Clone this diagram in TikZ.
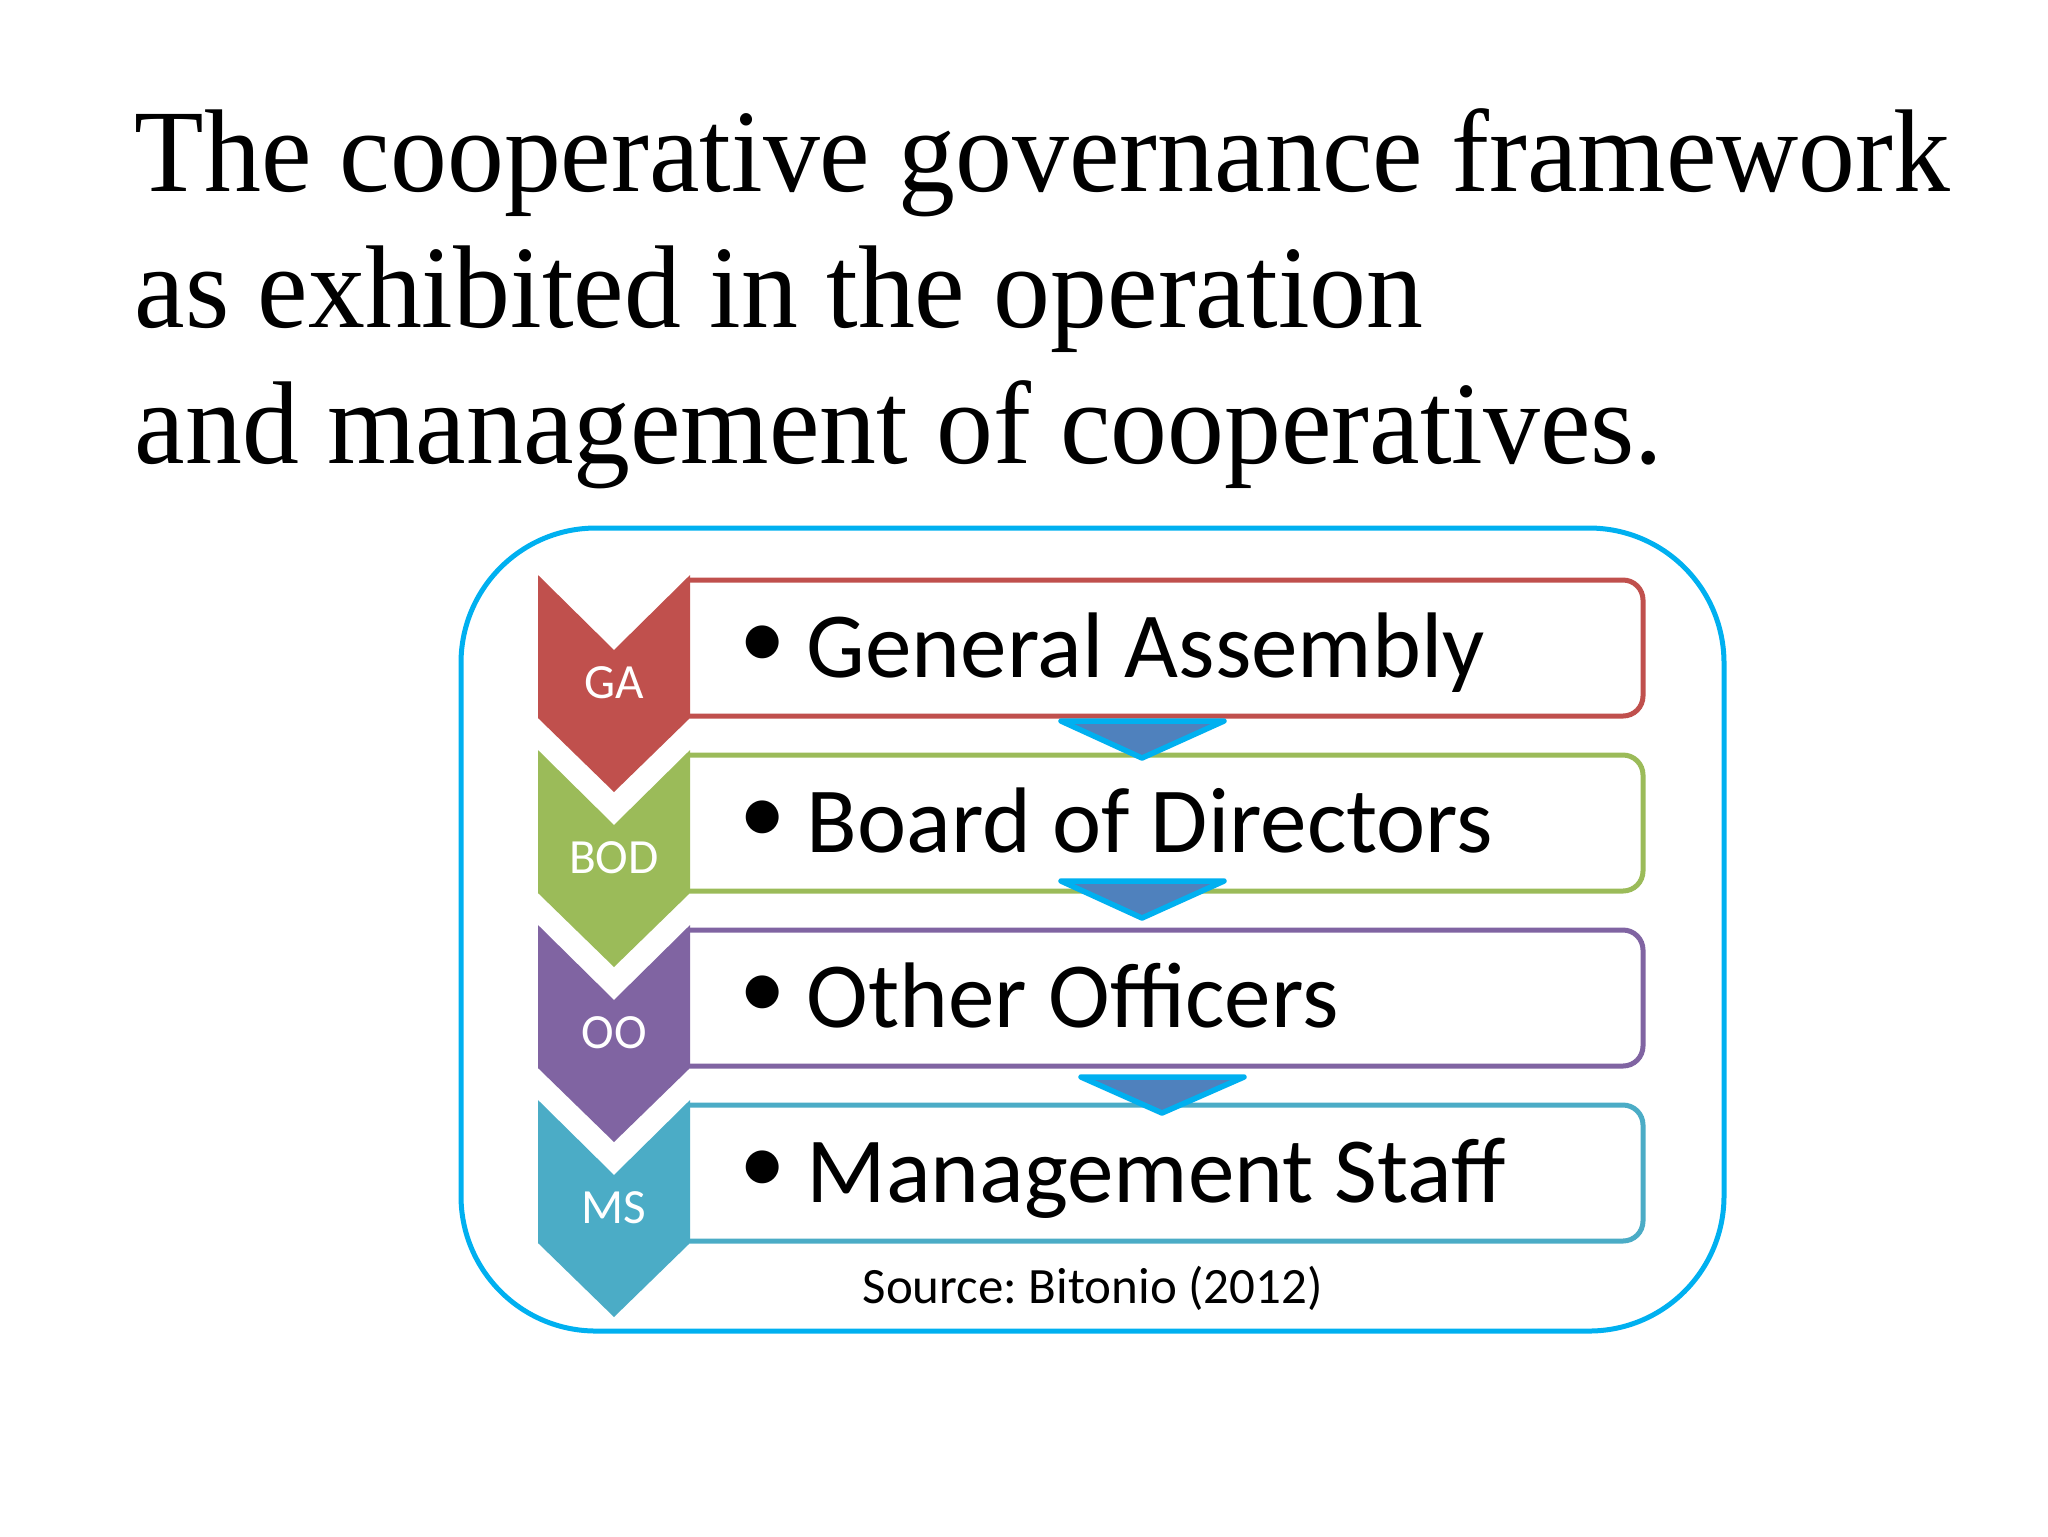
\documentclass[tikz,border=0pt]{standalone}
\usepackage{fontspec}
\setmainfont{Liberation Serif}
\newfontfamily\titlefont[FakeStretch=0.966]{Liberation Serif}
\newfontfamily\calibri{Carlito}
\usepackage{tikz}
\usetikzlibrary{calc}
\frenchspacing

\definecolor{gared}{HTML}{C0504D}
\definecolor{bodgreen}{HTML}{9BBB59}
\definecolor{oopurple}{HTML}{8064A2}
\definecolor{msaqua}{HTML}{4BACC6}
\definecolor{arrowblue}{HTML}{4F81BD}
\definecolor{framecyan}{HTML}{00B0F0}

\tikzset{
  chevron/.style={fill=#1, draw=none},
  itembox/.style={draw=#1, line width=0.5mm, rounded corners=2mm, fill=white},
  downtri/.style={fill=arrowblue, draw=framecyan, line width=0.55mm, line join=round},
  chevlabel/.style={text=white, inner sep=0pt, font=\calibri\fontsize{14}{16}\selectfont},
  itemtext/.style={inner sep=0pt, anchor=base west, font=\calibri\fontsize{26.5}{30}\selectfont},
  itembullet/.style={inner sep=0pt, font=\calibri\fontsize{26.5}{30}\selectfont},
  titleline/.style={inner sep=0pt, anchor=base west, font=\titlefont\fontsize{33.5}{38}\selectfont}
}

\begin{document}
\begin{tikzpicture}[x=0.1mm, y=-0.1mm]
          \useasboundingbox (0,0) rectangle (2048,1536);

          % title
          \node [titleline] (title1) at (134,191) {The cooperative governance framework};
          \node [titleline] (title2) at (134,327) {as exhibited in the operation};
          \node [titleline] (title3) at (134,463) {and management of cooperatives.};

          \draw [framecyan, line width=0.5mm, rounded corners=13.5mm] (461,528) rectangle (1724,1331); % Draws the frame

          \draw [itembox=gared] (690,580) -- (1643,580) -- (1643,716) -- (690,716); % Draws a box
          \draw [itembox=bodgreen] (690,755) -- (1643,755) -- (1643,891) -- (690,891); % Draws a box
          \draw [itembox=oopurple] (690,930) -- (1643,930) -- (1643,1066) -- (690,1066); % Draws a box
          \draw [itembox=msaqua] (690,1105) -- (1643,1105) -- (1643,1241) -- (690,1241); % Draws a box

          \draw [chevron=gared] (538,575) -- (614,650) -- (690,575) -- (690,718) -- (614,792) -- (538,718) -- cycle; % Draws a chevron
          \draw [chevron=bodgreen] (538,750) -- (614,825) -- (690,750) -- (690,893) -- (614,967) -- (538,893) -- cycle; % Draws a chevron
          \draw [chevron=oopurple] (538,925) -- (614,1000) -- (690,925) -- (690,1068) -- (614,1142) -- (538,1068) -- cycle; % Draws a chevron
          \draw [chevron=msaqua] (538,1100) -- (614,1175) -- (690,1100) -- (690,1243) -- (614,1317) -- (538,1243) -- cycle; % Draws a chevron

          \node [chevlabel] (ga) at (614,683) {GA};
          \node [chevlabel] (bod) at (614,858) {BOD};
          \node [chevlabel] (oo) at (614,1033) {OO};
          \node [chevlabel] (ms) at (614,1208) {MS};

          \node [itembullet] (gadot) at (763,647) {\textbullet};
          \node [itemtext] (gatext) at (806,677) {General Assembly};
          \node [itembullet] (boddot) at (763,822) {\textbullet};
          \node [itemtext] (bodtext) at (806,852) {Board of Directors};
          \node [itembullet] (oodot) at (763,997) {\textbullet};
          \node [itemtext] (ootext) at (806,1027) {Other Officers};
          \node [itembullet] (msdot) at (763,1172) {\textbullet};
          \node [itemtext] (mstext) at (806,1202) {Management Staff};

          \draw [downtri] (1061,721) -- (1224,721) -- (1142,758) -- cycle; % Draws a down arrow
          \draw [downtri] (1061,881) -- (1224,881) -- (1142,918) -- cycle; % Draws a down arrow
          \draw [downtri] (1081,1077) -- (1244,1077) -- (1162,1113) -- cycle; % Draws a down arrow

          \node [inner sep=0pt, anchor=base west, font=\calibri\fontsize{14.5}{17}\selectfont] (source) at (862,1303) {Source: Bitonio (2012)};
        \end{tikzpicture}
\end{document}
